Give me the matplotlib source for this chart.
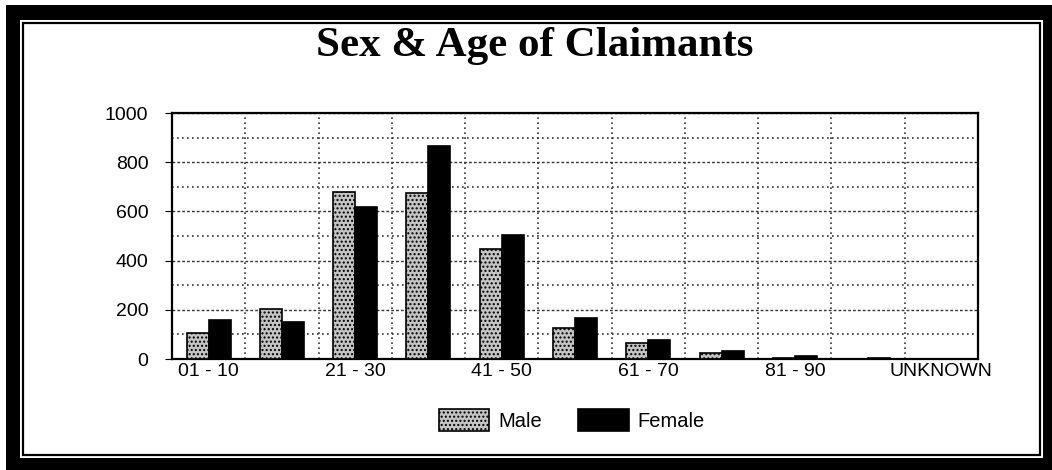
import numpy as np
import matplotlib
matplotlib.use("Agg")
import matplotlib.pyplot as plt
from matplotlib.patches import Rectangle

# age bands, 11 of them (only every other one gets a label)
ages = ["01 - 10", "11 - 20", "21 - 30", "31 - 40", "41 - 50", "51 - 60",
        "61 - 70", "71 - 80", "81 - 90", "91 - 100", "UNKNOWN"]
male = [106, 203, 679, 675, 447, 126, 65, 24, 4, 2, 1]
female = [159, 150, 618, 866, 504, 167, 77, 33, 12, 3, 1]
shown_labels = ["01 - 10", "", "21 - 30", "", "41 - 50", "", "61 - 70", "", "81 - 90", "", "UNKNOWN"]

W, H = 1052, 470
fig = plt.figure(figsize=(W / 100, H / 100), dpi=100)

# frame around the whole thing
fig.patches.append(Rectangle((6 / W, 0), 1 - 6 / W, 1 - 5 / H, transform=fig.transFigure,
                             facecolor="black", edgecolor="none", zorder=-3))
fig.patches.append(Rectangle((20 / W, 12 / H), (1043 - 20) / W, 438 / H,
                             transform=fig.transFigure, facecolor="white", edgecolor="none", zorder=-2))
fig.patches.append(Rectangle((23 / W, 15 / H), (1040 - 23) / W, (447 - 15) / H,
                             transform=fig.transFigure, facecolor="none", edgecolor="black",
                             linewidth=1.6, zorder=-1))

ax = fig.add_axes([172 / W, (H - 359) / H, (978 - 172) / W, (359 - 113) / H])
x = np.arange(len(ages))
bw = 0.3
ax.bar(x - bw / 2, male, bw, facecolor="#c4c4c4", edgecolor="black", hatch="....",
       linewidth=1.2, label="Male", zorder=3)
ax.bar(x + bw / 2, female, bw, facecolor="black", edgecolor="black",
       linewidth=1.2, label="Female", zorder=3)

ax.set_xlim(-0.5, len(ages) - 0.5)
ax.set_ylim(0, 1000)
ax.set_yticks(range(0, 1001, 200))
ax.set_yticks(range(100, 1000, 200), minor=True)
ax.set_xticks(x)
ax.set_xticklabels(shown_labels, fontsize=14, family="Liberation Sans")
ax.set_xticks(np.arange(0.5, len(ages) - 0.5, 1), minor=True)
ax.tick_params(axis="x", which="both", length=0, pad=3)
ax.tick_params(axis="y", which="major", length=5, pad=12, labelsize=14, direction="out")
ax.tick_params(axis="y", which="minor", length=0)
for t in ax.get_yticklabels():
    t.set_family("Liberation Sans")

ax.grid(True, which="major", axis="y", linestyle=(0, (2, 1.5)), color="#333333", linewidth=1)
ax.grid(True, which="minor", axis="y", linestyle=(0, (1, 2)), color="#333333", linewidth=1.2)
ax.grid(True, which="minor", axis="x", linestyle=(0, (1, 2)), color="#333333", linewidth=1.2)
ax.grid(False, which="major", axis="x")
ax.set_axisbelow(True)
for s in ax.spines.values():
    s.set_linewidth(1.6)

fig.text(535 / W, 1 - 46 / H, "Sex & Age of Claimants", ha="center", va="center",
         fontsize=31, fontweight="bold", family="Liberation Serif")

fig.legend(loc="center", bbox_to_anchor=(572 / W, 1 - 420 / H), ncol=2, frameon=False,
           handlelength=2.5, handleheight=1.25, columnspacing=1.8,
           handletextpad=0.45, prop={"family": "Liberation Sans", "size": 14.5})

fig.savefig("out.png", dpi=100)
